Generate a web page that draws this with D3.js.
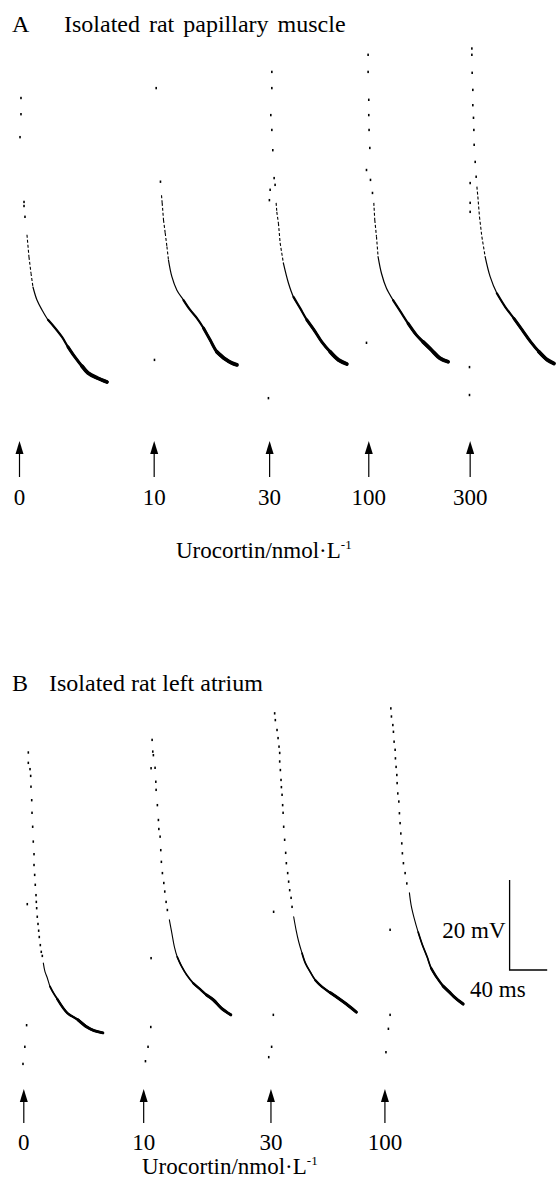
<!DOCTYPE html>
<html><head><meta charset="utf-8">
<script src="https://cdn.jsdelivr.net/npm/d3@7"></script>
<style>
body{margin:0;background:#fff}
svg{display:block}
text{font-family:"Liberation Serif","Times New Roman",serif;fill:#000}
</style>
</head><body>
<svg id="c" width="556" height="1182"></svg>
<script>
// ---------- DATA ----------
const concA = ["0", "10", "30", "100", "300"];           // Urocortin nmol/L, panel A
const concB = ["0", "10", "30", "100"];                  // panel B
const sweepStartA = [0, 182, 338, 472, 609];             // ms, display time of each sweep
const sweepStartB = [0, 162, 334, 488];
const scaleBarMV = 20;
const scaleBarMS = 40;

// each trace: [time ms from stimulus, membrane potential mV]
const a1Dots = [[2.0,-14.0],[2.0,-17.6],[0.7,-22.7],[6.1,-37.1],[6.1,-38.0],[7.4,-40.4]];
const a1Line = [[10.1,-44.4],[12.8,-49.3],[15.5,-52.9],[18.2,-56.0],[23.6,-58.9],[30.4,-61.1],[38.5,-63.3],[48.0,-65.1],[57.4,-67.1],[65.5,-69.3],[75.0,-71.6],[84.5,-73.6],[92.6,-75.1],[104.7,-76.2],[118.2,-77.1]];
const a2Dots = [[2.7,-11.8],[8.5,-32.6],[0.4,-72.2]];
const a2Line = [[9.9,-35.6],[10.8,-37.3],[12.6,-41.1],[14.9,-44.0],[17.2,-47.0],[19.3,-50.0],[23.9,-53.7],[30.7,-56.7],[39.6,-58.9],[48.6,-61.1],[57.7,-62.9],[66.6,-65.1],[75.7,-67.8],[84.7,-70.4],[95.9,-72.0],[105.0,-72.9],[111.8,-73.3]];
const a3Dots = [[3.0,-8.2],[3.0,-11.8],[1.6,-17.8],[3.0,-21.1],[4.3,-25.6],[6.1,-31.8],[7.4,-33.3],[0.7,-34.4],[-0.3,-36.7],[-1.6,-80.7]];
const a3Line = [[8.8,-37.3],[9.7,-39.3],[11.9,-41.8],[14.2,-46.2],[18.6,-50.7],[25.4,-55.1],[32.2,-58.2],[41.2,-60.7],[50.3,-63.3],[61.5,-65.9],[70.5,-68.2],[81.8,-70.4],[93.0,-72.2],[104.3,-73.1]];
const a4Dots = [[-0.9,-4.4],[-0.9,-8.2],[0,-14.4],[0,-17.8],[0.4,-21.1],[1.4,-25.1],[-3.1,-30.0],[2.3,-32.2],[5.0,-35.1],[-3.1,-68.4]];
const a4Line = [[6.8,-37.3],[8.1,-41.1],[10.4,-44.8],[12.6,-49.3],[17.2,-53.0],[23.9,-56.3],[32.8,-58.9],[44.2,-61.8],[53.1,-64.1],[64.5,-66.7],[73.4,-68.2],[84.7,-70.0],[95.9,-71.8],[107.2,-72.6]];
const a5Dots = [[2.3,-3.0],[2.3,-4.4],[2.7,-8.4],[3.6,-12.2],[3.6,-15.6],[4.5,-18.4],[5.0,-21.1],[5.4,-24.4],[6.8,-28.2],[8.1,-31.5],[0,-32.9],[0,-37.3],[0,-39.3],[-0.9,-73.8],[-0.9,-80.0]];
const a5Line = [[9.1,-33.7],[10.4,-35.9],[12.6,-40.4],[15.8,-44.8],[20.3,-49.3],[27.0,-53.7],[36.1,-57.4],[47.3,-60.4],[59.2,-63.0],[70.5,-65.6],[81.8,-68.2],[93.0,-70.4],[104.3,-72.2],[113.2,-73.0]];

const b1Dots = [[6.1,-5.0],[6.1,-7.3],[8.4,-8.7],[9.3,-10.2],[9.7,-12.6],[10.7,-15.6],[11.1,-18.4],[12.0,-21.5],[12.8,-24.8],[13.8,-27.6],[13.8,-30.0],[14.7,-32.2],[15.5,-34.4],[16.5,-36.7],[16.9,-38.2],[17.4,-39.6],[18.2,-41.5],[19.2,-43.1],[20.1,-44.6],[20.9,-46.0],[22.3,-47.8],[23.6,-49.3],[25.0,-50.2],[4.7,-38.7],[3.8,-65.6],[1.4,-70.4],[-1.1,-74.2]];
const b1Line = [[26.4,-51.8],[28.6,-53.7],[31.8,-55.1],[35.4,-57.0],[39.9,-58.4],[45.3,-59.8],[58.9,-62.9],[73.2,-64.4],[85.3,-66.0],[94.9,-66.8],[106.8,-67.3]];
const b2Dots = [[11.4,-2.2],[12.3,-4.8],[13.1,-5.6],[10.0,-8.5],[15.4,-8.4],[16.4,-11.5],[16.8,-13.3],[18.5,-16.7],[19.9,-20.0],[20.5,-22.0],[22.2,-23.7],[23.1,-26.7],[23.9,-29.3],[25.3,-31.8],[27.2,-34.0],[28.5,-35.9],[30.3,-38.2],[32.0,-40.0],[10.0,-50.7],[9.6,-66.0],[5.9,-70.4],[2.4,-73.6]];
const b2Line = [[34.7,-42.2],[38.0,-45.1],[41.5,-48.2],[45.3,-50.4],[51.5,-52.6],[58.0,-54.4],[67.2,-56.3],[76.2,-57.6],[85.0,-58.9],[94.3,-60.0],[104.9,-61.8],[117.7,-63.3]];
const b3Dots = [[5.0,3.7],[5.9,2.2],[8.2,0],[9.6,-1.8],[10.9,-3.7],[11.8,-5.1],[11.8,-7.0],[12.7,-8.9],[13.6,-11.1],[14.1,-12.7],[15.0,-14.4],[15.8,-16.7],[16.4,-18.4],[17.2,-21.5],[18.5,-24.4],[19.9,-27.3],[20.8,-29.6],[22.6,-31.8],[23.9,-33.7],[25.3,-35.6],[27.2,-37.3],[28.5,-39.3],[3.6,-40.4],[3.2,-63.3],[0.9,-70.4],[-3.0,-72.7]];
const b3Line = [[30.7,-41.5],[33.9,-44.4],[37.4,-47.0],[42.0,-49.6],[46.5,-51.8],[53.2,-53.8],[60.0,-55.6],[69.1,-57.1],[80.3,-58.4],[91.1,-59.6],[101.9,-60.9],[115.4,-62.7]];
const b4Dots = [[8.0,4.8],[8.8,3.0],[10.7,1.1],[11.5,-0.4],[12.4,-2.6],[13.8,-4.4],[14.2,-6.3],[15.1,-8.2],[16.1,-10.0],[16.5,-11.8],[17.4,-14.1],[18.8,-15.9],[19.6,-18.5],[20.5,-20.7],[21.5,-23.0],[22.8,-25.2],[23.6,-27.4],[25.0,-29.6],[27.3,-31.8],[29.6,-34.1],[7.0,-44.4],[7.0,-63.3],[4.7,-66.4],[1.4,-71.6]];
const b4Line = [[33.1,-36.2],[35.4,-38.9],[39.5,-41.8],[44.9,-44.9],[50.3,-47.6],[57.0,-50.4],[62.4,-52.9],[70.5,-55.1],[78.6,-56.9],[86.8,-58.2],[93.5,-59.3],[105.7,-60.9]];

const tracesA = [[a1Dots,a1Line],[a2Dots,a2Line],[a3Dots,a3Line],[a4Dots,a4Line],[a5Dots,a5Line]];
const tracesB = [[b1Dots,b1Line],[b2Dots,b2Line],[b3Dots,b3Line],[b4Dots,b4Line]];

// ---------- SCALES ----------
const pxPerMs = 0.74;
const xA = d3.scaleLinear().domain([0, 700]).range([19.5, 19.5 + 700 * pxPerMs]);
const yA = d3.scaleLinear().domain([-80, 0]).range([395, 35]);
const xB = d3.scaleLinear().domain([0, 700]).range([23.8, 23.8 + 700 * pxPerMs]);
const yB = d3.scaleLinear().domain([-80, 0]).range([1090, 730]);

const svg = d3.select("#c");
svg.append("rect").attr("width", 556).attr("height", 1182).attr("fill", "#fff");

function drawTrace(g, x, y, offset, dots, line, widths, dashSteep) {
  g.selectAll(null).data(dots).enter().append("rect")
    .attr("x", d => x(offset + d[0]) - 0.8)
    .attr("y", d => y(d[1]) - 1.2)
    .attr("width", 1.6).attr("height", 2.4)
    .attr("fill", "#000");
  const pts = line.map(d => [x(offset + d[0]), y(d[1])]);
  // steep initial part drawn dashed
  let k = 0;
  if (dashSteep) {
    while (k < pts.length - 2 &&
      Math.abs(pts[k + 1][1] - pts[k][1]) > 5 * Math.abs(pts[k + 1][0] - pts[k][0])) {
      g.append("line")
        .attr("x1", pts[k][0]).attr("y1", pts[k][1])
        .attr("x2", pts[k + 1][0]).attr("y2", pts[k + 1][1])
        .attr("stroke", "#000").attr("stroke-width", 1.1).attr("stroke-dasharray", "3,2");
      k++;
    }
  }
  const rest = pts.slice(k);
  const gen = d3.line().curve(d3.curveCatmullRom.alpha(0.5));
  const n = rest.length;
  const fracs = [0, 0.3, 0.55, 0.78];
  fracs.forEach((f, j) => {
    const sub = rest.slice(Math.min(n - 2, Math.floor(f * (n - 1))));
    g.append("path").attr("d", gen(sub))
      .attr("fill", "none").attr("stroke", "#000")
      .attr("stroke-linecap", "round").attr("stroke-linejoin", "round")
      .attr("stroke-width", widths[j]);
  });
}

function drawArrows(g, x, starts, labels, tipY, baseY, labelY) {
  starts.forEach((s, i) => {
    const cx = x(s);
    g.append("line").attr("x1", cx).attr("x2", cx).attr("y1", tipY + 8).attr("y2", baseY)
      .attr("stroke", "#000").attr("stroke-width", 1.2);
    g.append("path").attr("d", `M${cx},${tipY} L${cx - 4},${tipY + 13} L${cx + 4},${tipY + 13} Z`)
      .attr("fill", "#000");
    g.append("text").attr("x", cx).attr("y", labelY).attr("text-anchor", "middle")
      .attr("font-size", 23).text(labels[i]);
  });
}

function axisLabel(g, xPos, yPos) {
  const t = g.append("text").attr("x", xPos).attr("y", yPos).attr("font-size", 23);
  t.append("tspan").text("Urocortin/nmol·L");
  t.append("tspan").attr("font-size", 13).attr("dy", -9).text("-1");
}

// ---------- PANEL A ----------
const gA = svg.append("g");
gA.append("text").attr("x", 12).attr("y", 32).attr("font-size", 24).text("A");
gA.append("text").attr("x", 64).attr("y", 32).attr("font-size", 24).attr("word-spacing", 3)
  .text("Isolated rat papillary muscle");
tracesA.forEach((tr, i) => drawTrace(gA, xA, yA, sweepStartA[i], tr[0], tr[1], [1.2, 2.2, 3.0, 3.8], true));
drawArrows(gA, xA, sweepStartA, concA, 441, 477, 505);
axisLabel(gA, 176, 558);

// ---------- PANEL B ----------
const gB = svg.append("g");
gB.append("text").attr("x", 12).attr("y", 691).attr("font-size", 24).text("B");
gB.append("text").attr("x", 49).attr("y", 691).attr("font-size", 24).text("Isolated rat left atrium");
tracesB.forEach((tr, i) => drawTrace(gB, xB, yB, sweepStartB[i], tr[0], tr[1], [1.1, 1.7, 2.4, 3.0], false));
drawArrows(gB, xB, sweepStartB, concB, 1089, 1123, 1150);
axisLabel(gB, 142, 1174);

// scale bar (uses panel B scales)
const sbX = 509.6, sbY = 970;
const sbH = yB(-80) - yB(-80 + scaleBarMV);
const sbW = xB(scaleBarMS) - xB(0);
gB.append("path").attr("d", `M${sbX},${sbY - sbH} L${sbX},${sbY} L${sbX + sbW + 8},${sbY}`)
  .attr("fill", "none").attr("stroke", "#000").attr("stroke-width", 1.3);
gB.append("text").attr("x", sbX - 4).attr("y", 938).attr("text-anchor", "end").attr("font-size", 23)
  .text(scaleBarMV + " mV");
gB.append("text").attr("x", 470).attr("y", 997).attr("font-size", 23).text(scaleBarMS + " ms");
</script>
</body></html>
